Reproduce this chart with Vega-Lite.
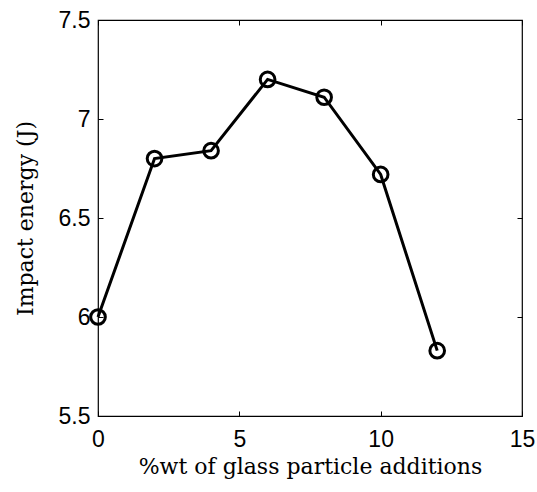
{
  "$schema": "https://vega.github.io/schema/vega-lite/v6.json",
  "autosize": {"type": "none"},
  "padding": {"left": 98, "top": 20, "right": 15, "bottom": 76},
  "width": 424,
  "height": 396,
  "background": "white",
  "config": {
    "view": {"stroke": "black", "strokeWidth": 1.2},
    "axis": {
      "grid": false,
      "domain": false,
      "tickSize": -5,
      "tickColor": "black",
      "labelFlush": false,
      "labelFont": "Liberation Sans",
      "labelFontSize": 23,
      "labelColor": "black",
      "titleFont": "DejaVu Serif",
      "titleFontSize": 22,
      "titleFontWeight": "normal",
      "titleColor": "black"
    }
  },
  "data": {"values": [
    {"x": 0, "y": 6.0},
    {"x": 2, "y": 6.8},
    {"x": 4, "y": 6.84},
    {"x": 6, "y": 7.2},
    {"x": 8, "y": 7.11},
    {"x": 10, "y": 6.72},
    {"x": 12, "y": 5.83}
  ]},
  "resolve": {"axis": {"x": "independent", "y": "independent"}},
  "layer": [
    {
      "mark": {"type": "line", "color": "black", "strokeWidth": 3},
      "encoding": {
        "x": {"field": "x", "type": "quantitative",
          "scale": {"domain": [0, 15], "nice": false},
          "axis": {"values": [0, 5, 10, 15], "format": "~g", "title": "%wt of glass particle additions", "labelPadding": 17, "titlePadding": 5}},
        "y": {"field": "y", "type": "quantitative",
          "scale": {"domain": [5.5, 7.5], "nice": false, "zero": false},
          "axis": {"values": [5.5, 6, 6.5, 7, 7.5], "format": "~g", "title": "Impact energy (J)", "labelPadding": 13, "titlePadding": 21}}
      }
    },
    {
      "mark": {"type": "point", "shape": "circle", "filled": false, "color": "black", "strokeWidth": 3, "size": 215, "opacity": 1},
      "encoding": {
        "x": {"field": "x", "type": "quantitative",
          "axis": {"orient": "top", "values": [0, 5, 10, 15], "labels": false, "title": null}},
        "y": {"field": "y", "type": "quantitative",
          "axis": {"orient": "right", "values": [5.5, 6, 6.5, 7, 7.5], "labels": false, "title": null}}
      }
    }
  ]
}
